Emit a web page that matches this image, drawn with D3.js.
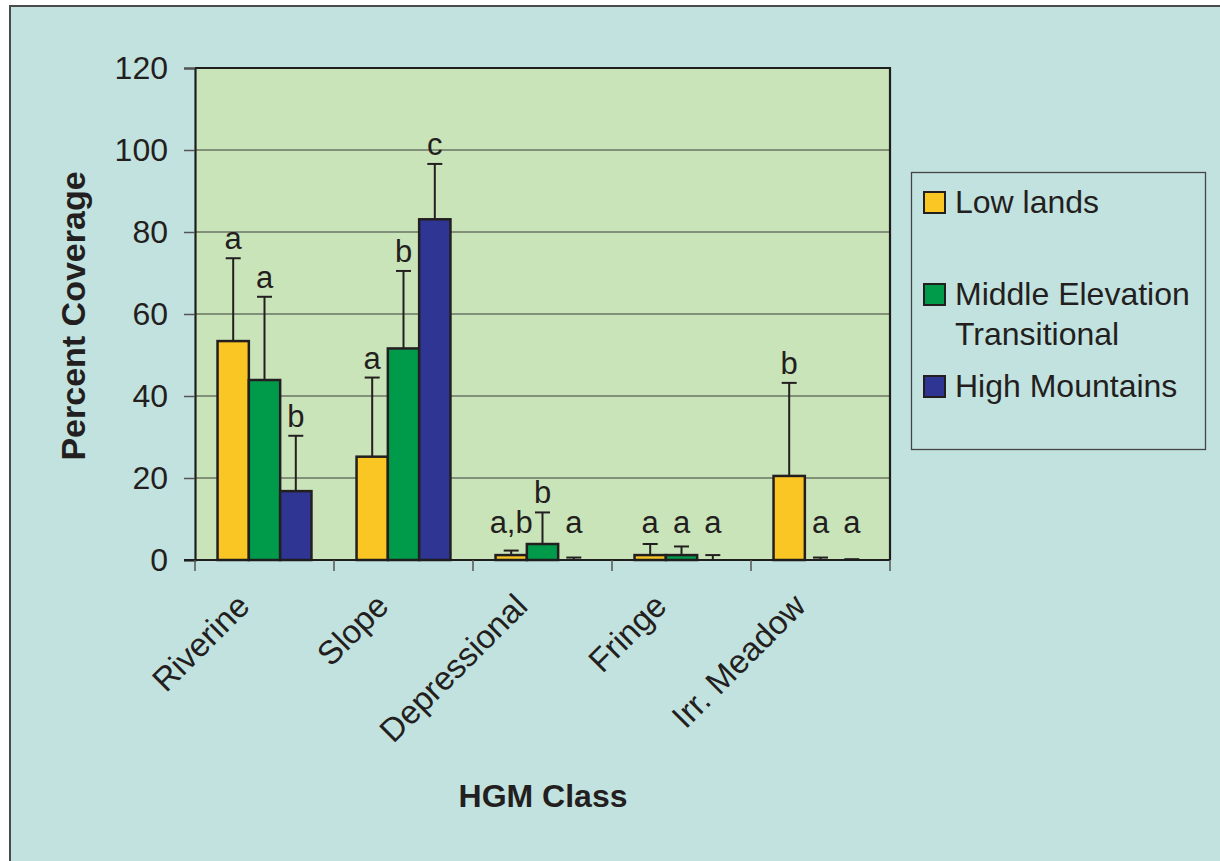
<!DOCTYPE html>
<html>
<head>
<meta charset="utf-8">
<script src="https://cdn.jsdelivr.net/npm/d3@7"></script>
<style>
  html, body { margin: 0; padding: 0; background: #ffffff; }
  svg { display: block; }
  text { font-family: "Liberation Sans", Arial, Helvetica, sans-serif; fill: #231F20; }
</style>
</head>
<body>
<svg id="chart" width="1220" height="861"></svg>
<script>
// ---------- data ----------
const categories = ["Riverine", "Slope", "Depressional", "Fringe", "Irr. Meadow"];
const seriesNames = ["Low lands", "Middle Elevation Transitional", "High Mountains"];
const legendLines = [["Low lands"], ["Middle Elevation", "Transitional"], ["High Mountains"]];
const lowLands      = [53.4, 25.2, 1.2, 1.2, 20.5];
const middleElev    = [43.9, 51.6, 3.9, 1.2, 0.0];
const highMountains = [16.8, 83.1, 0.0, 0.0, 0.0];
const lowLandsErr      = [73.6, 44.5, 2.3, 3.9, 43.2];
const middleElevErr    = [64.2, 70.5, 11.6, 3.3, 0.6];
const highMountainsErr = [30.3, 96.6, 0.6, 1.2, 0.2];
const lowLandsSig      = ["a", "a", "a,b", "a", "b"];
const middleElevSig    = ["a", "b", "b", "a", "a"];
const highMountainsSig = ["b", "c", "a", "a", "a"];
const yTicks = [0, 20, 40, 60, 80, 100, 120];
const colors = ["#F9C623", "#009B4A", "#2E3592"];

const values = [lowLands, middleElev, highMountains];
const errs = [lowLandsErr, middleElevErr, highMountainsErr];
const sigs = [lowLandsSig, middleElevSig, highMountainsSig];

// ---------- layout ----------
const svg = d3.select("#chart");
const plot = { left: 195, top: 68, right: 890, bottom: 560 };

// outer background frame
svg.append("rect").attr("x", 10).attr("y", 6).attr("width", 1240).attr("height", 900)
  .attr("fill", "#C2E2DF").attr("stroke", "#4a4a4a").attr("stroke-width", 2);

const x = d3.scaleBand().domain(categories).range([plot.left, plot.right]).padding(0);
const xs = d3.scaleBand().domain(d3.range(seriesNames.length)).range([0, x.bandwidth()])
  .paddingInner(0).paddingOuter(0.72);
const y = d3.scaleLinear().domain([0, 120]).range([plot.bottom, plot.top]);

// plot area
svg.append("rect").attr("x", plot.left).attr("y", plot.top)
  .attr("width", plot.right - plot.left).attr("height", plot.bottom - plot.top)
  .attr("fill", "#CAE4B9");

// gridlines
svg.append("g").selectAll("line").data(yTicks.filter(d => d > 0 && d < 120)).join("line")
  .attr("x1", plot.left).attr("x2", plot.right)
  .attr("y1", d => y(d)).attr("y2", d => y(d))
  .attr("stroke", "#3a3a3a").attr("stroke-width", 1.2);

// plot frame top/right
svg.append("path")
  .attr("d", `M${plot.left},${plot.top}H${plot.right}V${plot.bottom}`)
  .attr("fill", "none").attr("stroke", "#1e1e1e").attr("stroke-width", 2.2);

// y axis
const yAxis = d3.axisLeft(y).tickValues(yTicks).tickSize(11).tickPadding(16);
const gy = svg.append("g").attr("transform", `translate(${plot.left},0)`).call(yAxis);
gy.select(".domain").attr("stroke", "#1e1e1e").attr("stroke-width", 2.2);
gy.selectAll(".tick line").attr("stroke", "#555").attr("stroke-width", 1.5);
gy.selectAll(".tick text").style("font-size", "32px").attr("fill", "#231F20")
  .style("font-family", "'Liberation Sans', Arial, sans-serif");

// bars
const groups = svg.append("g").selectAll("g").data(categories).join("g")
  .attr("transform", d => `translate(${x(d)},0)`);

seriesNames.forEach((s, si) => {
  groups.append("rect")
    .attr("x", xs(si)).attr("width", xs.bandwidth())
    .attr("y", (d, ci) => y(values[si][ci]))
    .attr("height", (d, ci) => y(0) - y(values[si][ci]))
    .attr("fill", colors[si]).attr("stroke", "#231F20").attr("stroke-width", 2.5);
});

// error bars (upper only)
seriesNames.forEach((s, si) => {
  const cx = xs(si) + xs.bandwidth() / 2;
  groups.append("line")
    .attr("x1", cx).attr("x2", cx)
    .attr("y1", (d, ci) => y(values[si][ci]))
    .attr("y2", (d, ci) => y(errs[si][ci]))
    .attr("stroke", "#231F20").attr("stroke-width", 2);
  groups.append("line")
    .attr("x1", cx - 7.5).attr("x2", cx + 7.5)
    .attr("y1", (d, ci) => y(errs[si][ci]))
    .attr("y2", (d, ci) => y(errs[si][ci]))
    .attr("stroke", "#231F20").attr("stroke-width", 2);
});

// significance letters
seriesNames.forEach((s, si) => {
  const cx = xs(si) + xs.bandwidth() / 2;
  groups.append("text")
    .attr("x", cx)
    .attr("y", (d, ci) => Math.min(y(errs[si][ci]) - 9, y(6.5)))
    .attr("text-anchor", "middle")
    .style("font-size", "31px")
    .text((d, ci) => sigs[si][ci]);
});

// x axis line & ticks at category boundaries
const gx = svg.append("g");
gx.append("line").attr("x1", plot.left - 11).attr("x2", plot.right)
  .attr("y1", plot.bottom).attr("y2", plot.bottom)
  .attr("stroke", "#1e1e1e").attr("stroke-width", 2.2);
const boundaries = categories.map(c => x(c)).concat([x(categories[categories.length - 1]) + x.bandwidth()]);
gx.selectAll("line.tk").data(boundaries).join("line").attr("class", "tk")
  .attr("x1", d => d).attr("x2", d => d)
  .attr("y1", plot.bottom).attr("y2", plot.bottom + 11)
  .attr("stroke", "#555").attr("stroke-width", 1.5);

// x category labels rotated
gx.selectAll("text.cat").data(categories).join("text").attr("class", "cat")
  .attr("transform", d => `translate(${x(d) + x.bandwidth() / 2 - 13},${plot.bottom + 48}) rotate(-45)`)
  .attr("text-anchor", "end")
  .style("font-size", "33px")
  .text(d => d);

// axis titles
svg.append("text")
  .attr("transform", `translate(85,316) rotate(-90)`)
  .attr("text-anchor", "middle")
  .style("font-size", "34px").style("font-weight", "bold")
  .text("Percent Coverage");
svg.append("text")
  .attr("x", 543).attr("y", 807)
  .attr("text-anchor", "middle")
  .style("font-size", "32px").style("font-weight", "bold")
  .text("HGM Class");

// legend
const lg = svg.append("g");
lg.append("rect").attr("x", 911.5).attr("y", 172.5).attr("width", 294).attr("height", 277)
  .attr("fill", "none").attr("stroke", "#444").attr("stroke-width", 1.3);
const legendY = [213, 305, 397];
legendLines.forEach((lines, i) => {
  lg.append("rect").attr("x", 924).attr("y", legendY[i] - 21).attr("width", 21).attr("height", 21)
    .attr("fill", colors[i]).attr("stroke", "#231F20").attr("stroke-width", 2);
  lines.forEach((t, j) => {
    lg.append("text").attr("x", 955).attr("y", legendY[i] + j * 40)
      .style("font-size", "32px").text(t);
  });
});
</script>
</body>
</html>
